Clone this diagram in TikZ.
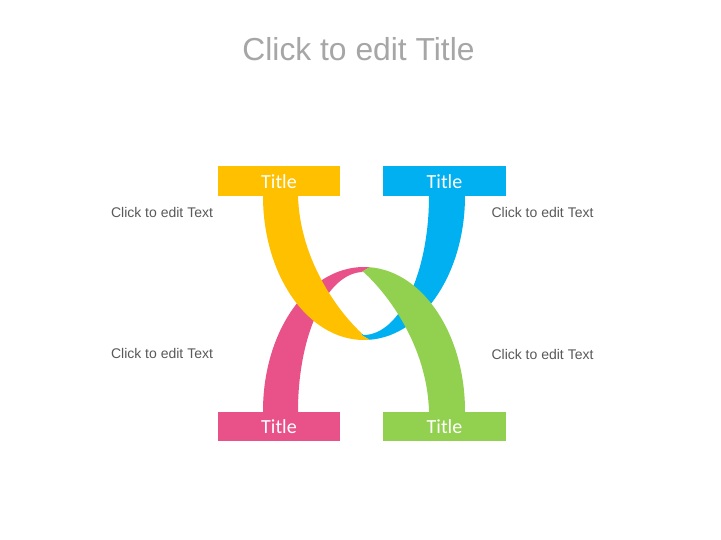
\documentclass[tikz,border=0pt]{standalone}
\usepackage{fontspec}
\setmainfont{Liberation Sans}
\newfontfamily\carlito{Carlito}
\definecolor{cyel}{RGB}{255,192,0}
\definecolor{cblu}{RGB}{0,176,240}
\definecolor{cpnk}{RGB}{233,82,137}
\definecolor{cgrn}{RGB}{146,208,80}
\definecolor{ctitle}{RGB}{166,166,166}
\definecolor{ctext}{RGB}{89,89,89}
\begin{document}
\begin{tikzpicture}[x=1pt,y=-1pt,
  boxlabel/.style={anchor=base,text=white,font=\carlito\fontsize{20}{24}\selectfont,inner sep=0pt},
  sidetext/.style={anchor=base,text=ctext,font=\fontsize{14}{16}\selectfont,inner sep=0pt},
  titletext/.style={anchor=base,text=ctitle,font=\fontsize{31.8}{38}\selectfont,inner sep=0pt}]
\useasboundingbox (0,0) rectangle (721,540);
\fill[white] (0,0) rectangle (721,540);
% band outlines
\def\Upath{(263,185) -- (263,196) .. controls (263,275.5) and (308.2,340) .. (364,340) .. controls (419.8,340) and (465,275.5) .. (465,196) -- (465,185) -- (429,185) -- (429,196) .. controls (429,272.8) and (399.7,335) .. (363.5,335) .. controls (338,312) and (300,260) .. (298,196) -- (298,185) -- cycle}
\def\Apath{(263,422) -- (263,411) .. controls (263,331.5) and (308.2,267) .. (364,267) .. controls (419.8,267) and (465,331.5) .. (465,411) -- (465,422) -- (429,422) -- (429,411) .. controls (427,347) and (389,295) .. (363.5,272) .. controls (327.3,272) and (298,334.2) .. (298,411) -- (298,422) -- cycle}
% pink (left part of arch)
\begin{scope}
  \clip (0,0) -- (375,0) -- (375,264) -- (361.5,272) -- (361.5,600) -- (0,600) -- cycle;
  \fill[cpnk] \Apath;
\end{scope}
% blue (right part of U)
\begin{scope}
  \clip (361.5,0) -- (361.5,335) -- (375,343) -- (375,600) -- (800,600) -- (800,0) -- cycle;
  \fill[cblu] \Upath;
\end{scope}
% yellow (left part of U)
\begin{scope}
  \clip (0,0) -- (361.5,0) -- (361.5,335) -- (375,343) -- (375,600) -- (0,600) -- cycle;
  \fill[cyel] \Upath;
\end{scope}
% green (right part of arch)
\begin{scope}
  \clip (361.5,600) -- (361.5,272) -- (375,264) -- (375,0) -- (800,0) -- (800,600) -- cycle;
  \fill[cgrn] \Apath;
\end{scope}
% boxes
\fill[cyel] (218,166) rectangle (340,196);
\fill[cblu] (383,166) rectangle (506,196);
\fill[cpnk] (218,412) rectangle (340,441);
\fill[cgrn] (383,412) rectangle (506,441);
\node[boxlabel] (t1) at (279,188.5) {Title};
\node[boxlabel] (t2) at (444.5,188.5) {Title};
\node[boxlabel] (t3) at (279,433) {Title};
\node[boxlabel] (t4) at (444.5,433) {Title};
% texts
\node[titletext] (title) at (358.5,61) {Click to edit Title};
\node[sidetext] (l1) at (162,218) {Click to edit Text};
\node[sidetext] (l2) at (162,359) {Click to edit Text};
\node[sidetext] (r1) at (542.5,218) {Click to edit Text};
\node[sidetext] (r2) at (542.5,359.5) {Click to edit Text};
\end{tikzpicture}
\end{document}
